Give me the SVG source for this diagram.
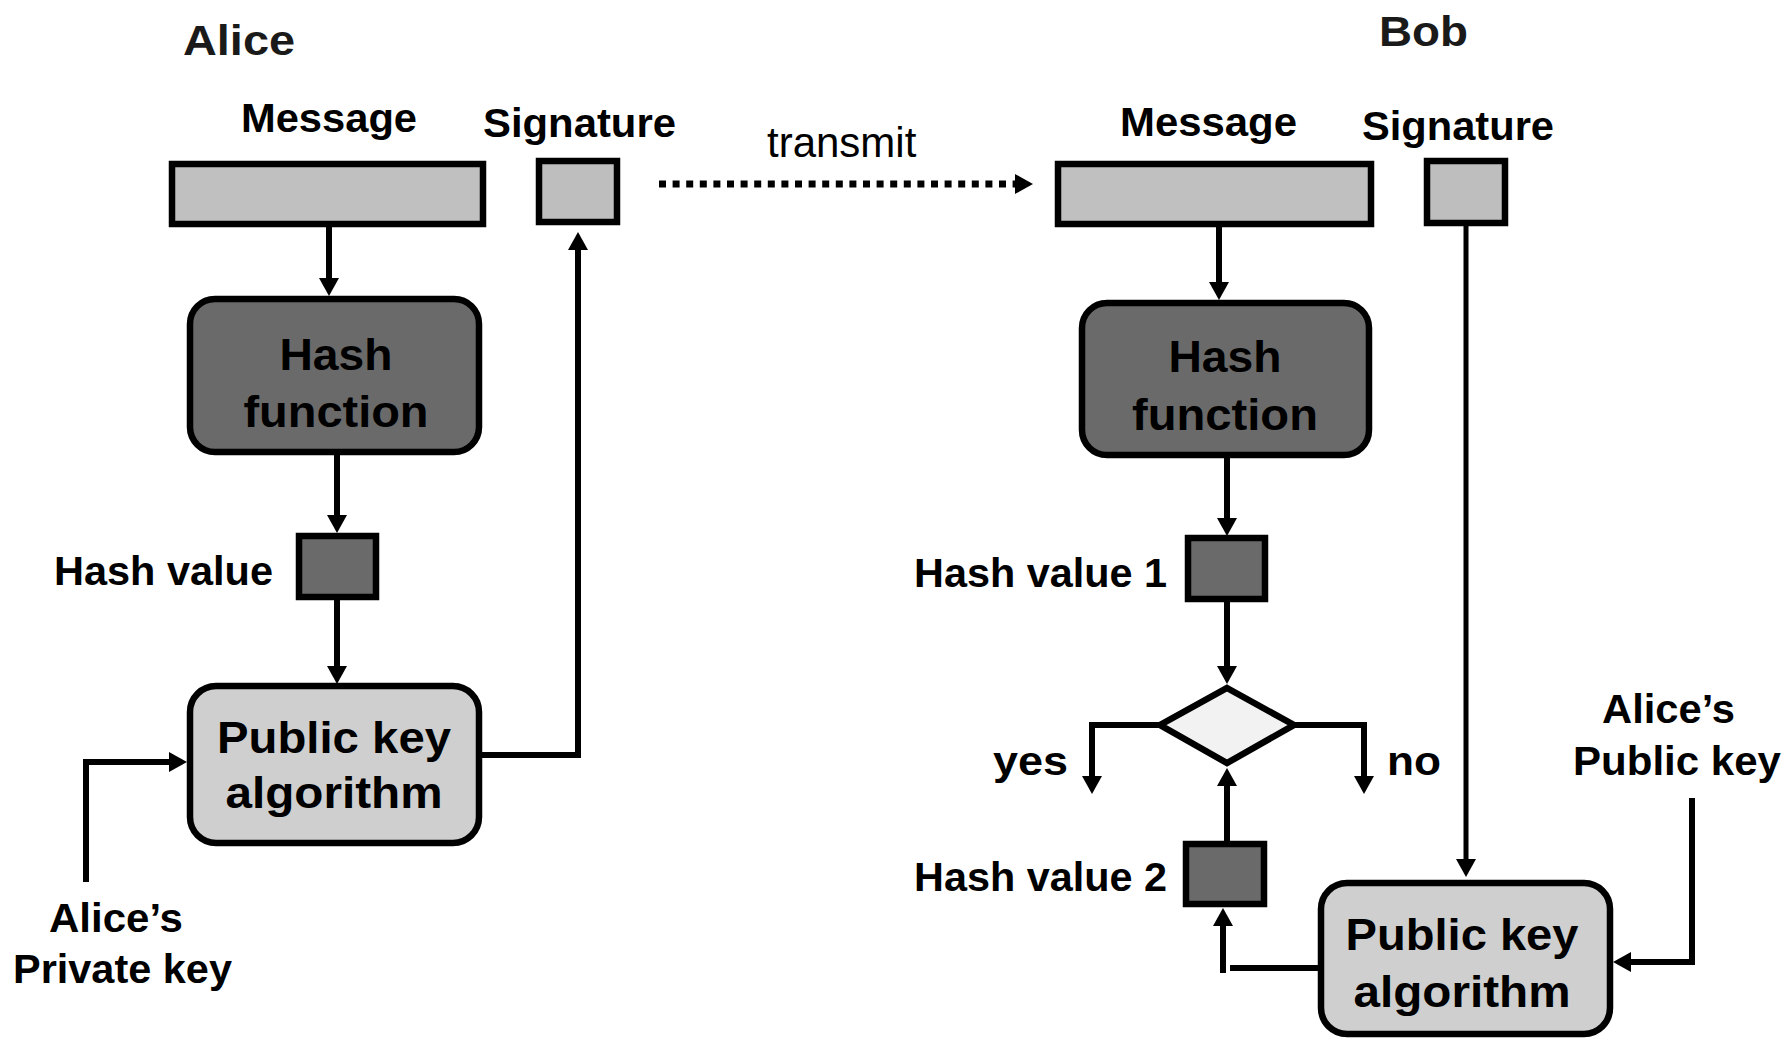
<svg xmlns="http://www.w3.org/2000/svg" width="1789" height="1040" viewBox="0 0 1789 1040">
  <defs>
    <marker id="arrow" viewBox="0 0 18 20" markerWidth="18" markerHeight="20" refX="8" refY="10" orient="auto" markerUnits="userSpaceOnUse">
      <path d="M0,0 L18,10 L0,20 Z" fill="#000"/>
    </marker>
    <style>
      .bg { fill: #ffffff; }
      .lbl { font-family: "Liberation Sans", Arial, sans-serif; font-weight: bold; font-size: 40px; fill: #000; }
      .box { font-family: "Liberation Sans", Arial, sans-serif; font-weight: bold; font-size: 45px; fill: #000; text-anchor: middle; }
      .who { font-family: "Liberation Sans", Arial, sans-serif; font-weight: bold; font-size: 43px; fill: #1a1a1a; }
      .plain { font-family: "Liberation Sans", Arial, sans-serif; font-size: 42px; fill: #000; }
      .data { fill: #c0c0c0; stroke: #000; stroke-width: 6.5; }
      .sig { fill: #bebebe; stroke: #000; stroke-width: 6.5; }
      .hash { fill: #6a6a6a; stroke: #000; stroke-width: 6.5; }
      .pka { fill: #cfcfcf; stroke: #000; stroke-width: 6.5; }
      .dec { fill: #f2f2f2; stroke: #000; stroke-width: 6.5; stroke-linejoin: miter; }
      .wire { fill: none; stroke: #000; stroke-width: 6; }
      .thin { fill: none; stroke: #000; stroke-width: 5; }
      .dots { fill: none; stroke: #000; stroke-width: 7; stroke-dasharray: 7 6.6; }
    </style>
  </defs>

  <rect class="bg" x="0" y="0" width="1789" height="1040"/>

  <!-- party headings -->
  <text class="who" x="183" y="55" textLength="112" lengthAdjust="spacingAndGlyphs">Alice</text>
  <text class="who" x="1379" y="46" textLength="89" lengthAdjust="spacingAndGlyphs">Bob</text>

  <!-- sender side -->
  <g id="alice-message">
    <text class="lbl" x="241" y="132" textLength="176" lengthAdjust="spacingAndGlyphs">Message</text>
    <rect class="data" x="172" y="164" width="311" height="60"/>
  </g>
  <g id="alice-signature">
    <text class="lbl" x="483" y="137" textLength="193" lengthAdjust="spacingAndGlyphs">Signature</text>
    <rect class="sig" x="539" y="161" width="78" height="61"/>
  </g>
  <g id="alice-hash-function">
    <rect class="hash" x="190" y="299" width="289" height="153" rx="25" ry="25"/>
    <text class="box" x="336" y="370" textLength="113" lengthAdjust="spacingAndGlyphs">Hash</text>
    <text class="box" x="336" y="427" textLength="185" lengthAdjust="spacingAndGlyphs">function</text>
  </g>
  <g id="alice-hash-value">
    <text class="lbl" x="54" y="585" textLength="219" lengthAdjust="spacingAndGlyphs">Hash value</text>
    <rect class="hash" x="299" y="536" width="77" height="61"/>
  </g>
  <g id="alice-public-key-algorithm">
    <rect class="pka" x="190" y="686" width="289" height="157" rx="26" ry="26"/>
    <text class="box" x="334" y="753" textLength="234" lengthAdjust="spacingAndGlyphs">Public key</text>
    <text class="box" x="334" y="808" textLength="217" lengthAdjust="spacingAndGlyphs">algorithm</text>
  </g>
  <g id="alice-private-key">
    <text class="lbl" x="49" y="932" textLength="134" lengthAdjust="spacingAndGlyphs">Alice’s</text>
    <text class="lbl" x="13" y="983" textLength="219" lengthAdjust="spacingAndGlyphs">Private key</text>
  </g>

  <!-- transmission -->
  <text class="plain" x="767" y="157">transmit</text>

  <!-- receiver side -->
  <g id="bob-message">
    <text class="lbl" x="1120" y="136" textLength="177" lengthAdjust="spacingAndGlyphs">Message</text>
    <rect class="data" x="1058" y="164" width="313" height="60"/>
  </g>
  <g id="bob-signature">
    <text class="lbl" x="1362" y="140" textLength="192" lengthAdjust="spacingAndGlyphs">Signature</text>
    <rect class="sig" x="1427" y="161" width="78" height="62"/>
  </g>
  <g id="bob-hash-function">
    <rect class="hash" x="1082" y="303" width="287" height="152" rx="25" ry="25"/>
    <text class="box" x="1225" y="372" textLength="113" lengthAdjust="spacingAndGlyphs">Hash</text>
    <text class="box" x="1225" y="430" textLength="186" lengthAdjust="spacingAndGlyphs">function</text>
  </g>
  <g id="bob-hash-value-1">
    <text class="lbl" x="914" y="587" textLength="253" lengthAdjust="spacingAndGlyphs">Hash value 1</text>
    <rect class="hash" x="1188" y="538" width="77" height="61"/>
  </g>
  <g id="bob-compare">
    <polygon class="dec" points="1227,688 1294,725 1227,763 1160,725"/>
  </g>
  <g id="bob-yes">
    <text class="lbl" x="993" y="775" textLength="75" lengthAdjust="spacingAndGlyphs">yes</text>
  </g>
  <g id="bob-no">
    <text class="lbl" x="1387" y="775" textLength="54" lengthAdjust="spacingAndGlyphs">no</text>
  </g>
  <g id="bob-hash-value-2">
    <text class="lbl" x="914" y="891" textLength="253" lengthAdjust="spacingAndGlyphs">Hash value 2</text>
    <rect class="hash" x="1186" y="844" width="78" height="60"/>
  </g>
  <g id="bob-public-key-algorithm">
    <rect class="pka" x="1321" y="883" width="289" height="151" rx="26" ry="26"/>
    <text class="box" x="1462" y="950" textLength="233" lengthAdjust="spacingAndGlyphs">Public key</text>
    <text class="box" x="1462" y="1007" textLength="217" lengthAdjust="spacingAndGlyphs">algorithm</text>
  </g>
  <g id="alice-public-key">
    <text class="lbl" x="1602" y="723" textLength="133" lengthAdjust="spacingAndGlyphs">Alice’s</text>
    <text class="lbl" x="1573" y="775" textLength="208" lengthAdjust="spacingAndGlyphs">Public key</text>
  </g>

  <!-- connectors -->
  <g id="connectors">
    <path class="wire" d="M329,227 V286" marker-end="url(#arrow)"/>
    <path class="wire" d="M337,455 V523" marker-end="url(#arrow)"/>
    <path class="wire" d="M337,600 V674" marker-end="url(#arrow)"/>
    <path class="wire" d="M86,882 V762 H177" marker-end="url(#arrow)"/>
    <path class="wire" d="M482,755 H578 V242" marker-end="url(#arrow)"/>
    <path class="dots" d="M659,184 H1023" marker-end="url(#arrow)"/>

    <path class="wire" d="M1219,227 V290" marker-end="url(#arrow)"/>
    <path class="wire" d="M1227,458 V526" marker-end="url(#arrow)"/>
    <path class="wire" d="M1227,602 V674" marker-end="url(#arrow)"/>
    <path class="wire" d="M1160,725 H1092 V784" marker-end="url(#arrow)"/>
    <path class="wire" d="M1294,725 H1364 V784" marker-end="url(#arrow)"/>
    <path class="wire" d="M1227,841 V778" marker-end="url(#arrow)"/>
    <path class="thin" d="M1466,226 V867" marker-end="url(#arrow)"/>
    <path class="wire" d="M1692,798 V962 H1623" marker-end="url(#arrow)"/>
    <path class="wire" d="M1318,968 H1230"/>
    <path class="wire" d="M1223,973 V918" marker-end="url(#arrow)"/>
  </g>
</svg>
